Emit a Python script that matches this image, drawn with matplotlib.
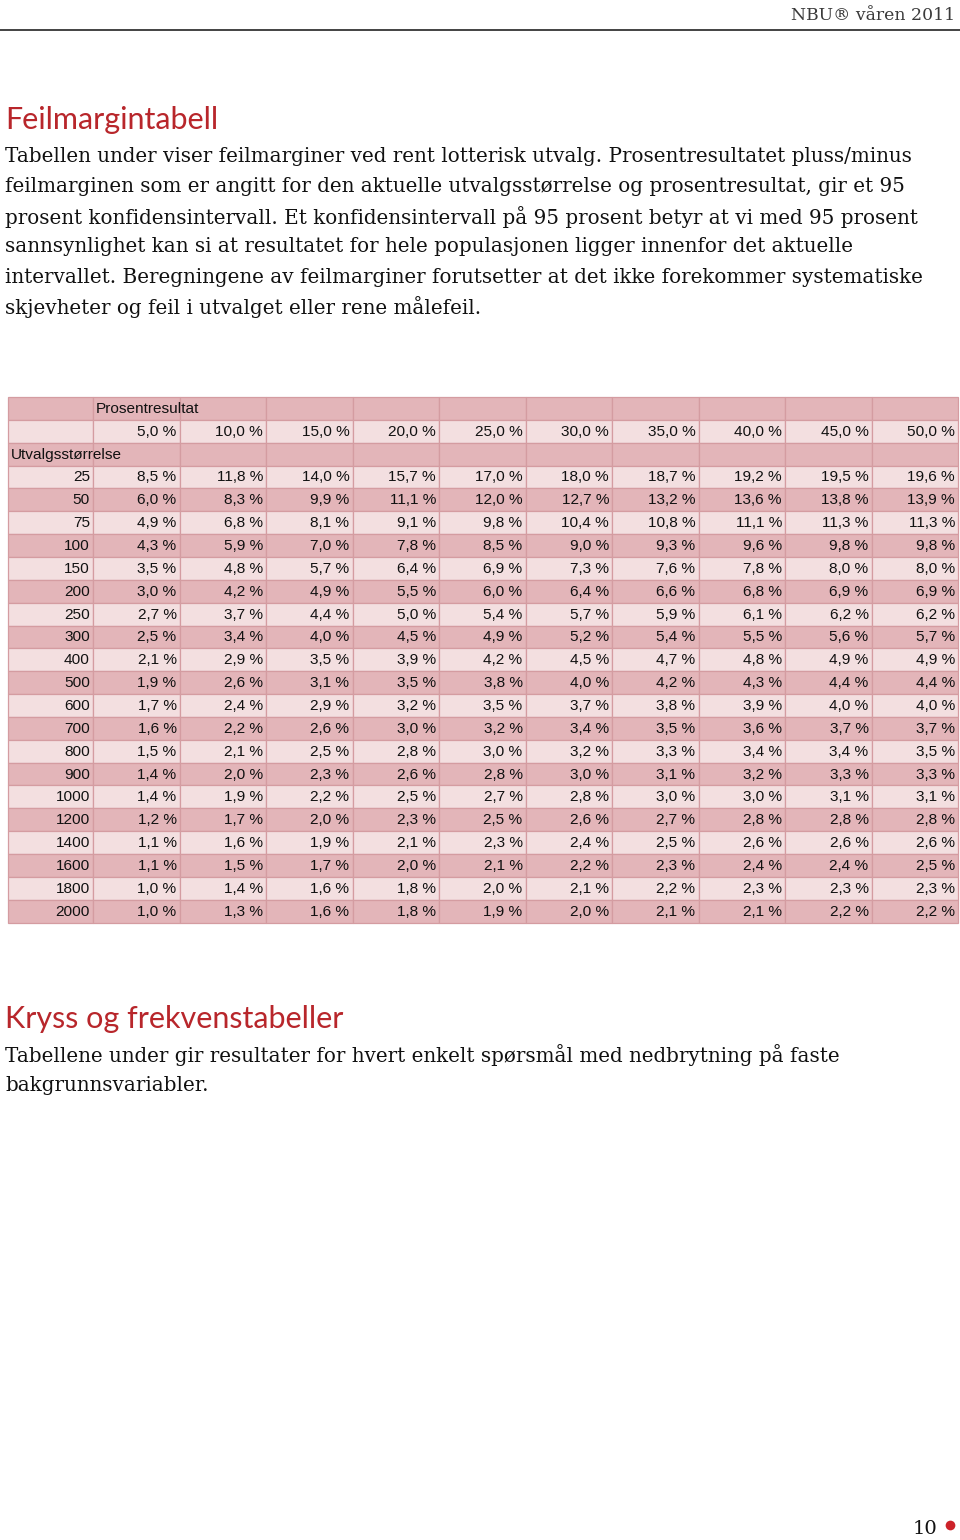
import matplotlib
matplotlib.use("Agg")
import matplotlib.pyplot as plt
from matplotlib.patches import Rectangle

# ---------------- data ----------------
header_text = "NBU® våren 2011"
title1 = "Feilmargintabell"
body1 = [
    "Tabellen under viser feilmarginer ved rent lotterisk utvalg. Prosentresultatet pluss/minus",
    "feilmarginen som er angitt for den aktuelle utvalgsstørrelse og prosentresultat, gir et 95",
    "prosent konfidensintervall. Et konfidensintervall på 95 prosent betyr at vi med 95 prosent",
    "sannsynlighet kan si at resultatet for hele populasjonen ligger innenfor det aktuelle",
    "intervallet. Beregningene av feilmarginer forutsetter at det ikke forekommer systematiske",
    "skjevheter og feil i utvalget eller rene målefeil.",
]
title2 = "Kryss og frekvenstabeller"
body2 = [
    "Tabellene under gir resultater for hvert enkelt spørsmål med nedbrytning på faste",
    "bakgrunnsvariabler.",
]
page_number = "10"

col_label = "Prosentresultat"
row_label = "Utvalgsstørrelse"
percents = [5.0, 10.0, 15.0, 20.0, 25.0, 30.0, 35.0, 40.0, 45.0, 50.0]
sizes = [25, 50, 75, 100, 150, 200, 250, 300, 400, 500,
         600, 700, 800, 900, 1000, 1200, 1400, 1600, 1800, 2000]
m25 = [8.5, 11.8, 14.0, 15.7, 17.0, 18.0, 18.7, 19.2, 19.5, 19.6]
m50 = [6.0, 8.3, 9.9, 11.1, 12.0, 12.7, 13.2, 13.6, 13.8, 13.9]
m75 = [4.9, 6.8, 8.1, 9.1, 9.8, 10.4, 10.8, 11.1, 11.3, 11.3]
m100 = [4.3, 5.9, 7.0, 7.8, 8.5, 9.0, 9.3, 9.6, 9.8, 9.8]
m150 = [3.5, 4.8, 5.7, 6.4, 6.9, 7.3, 7.6, 7.8, 8.0, 8.0]
m200 = [3.0, 4.2, 4.9, 5.5, 6.0, 6.4, 6.6, 6.8, 6.9, 6.9]
m250 = [2.7, 3.7, 4.4, 5.0, 5.4, 5.7, 5.9, 6.1, 6.2, 6.2]
m300 = [2.5, 3.4, 4.0, 4.5, 4.9, 5.2, 5.4, 5.5, 5.6, 5.7]
m400 = [2.1, 2.9, 3.5, 3.9, 4.2, 4.5, 4.7, 4.8, 4.9, 4.9]
m500 = [1.9, 2.6, 3.1, 3.5, 3.8, 4.0, 4.2, 4.3, 4.4, 4.4]
m600 = [1.7, 2.4, 2.9, 3.2, 3.5, 3.7, 3.8, 3.9, 4.0, 4.0]
m700 = [1.6, 2.2, 2.6, 3.0, 3.2, 3.4, 3.5, 3.6, 3.7, 3.7]
m800 = [1.5, 2.1, 2.5, 2.8, 3.0, 3.2, 3.3, 3.4, 3.4, 3.5]
m900 = [1.4, 2.0, 2.3, 2.6, 2.8, 3.0, 3.1, 3.2, 3.3, 3.3]
m1000 = [1.4, 1.9, 2.2, 2.5, 2.7, 2.8, 3.0, 3.0, 3.1, 3.1]
m1200 = [1.2, 1.7, 2.0, 2.3, 2.5, 2.6, 2.7, 2.8, 2.8, 2.8]
m1400 = [1.1, 1.6, 1.9, 2.1, 2.3, 2.4, 2.5, 2.6, 2.6, 2.6]
m1600 = [1.1, 1.5, 1.7, 2.0, 2.1, 2.2, 2.3, 2.4, 2.4, 2.5]
m1800 = [1.0, 1.4, 1.6, 1.8, 2.0, 2.1, 2.2, 2.3, 2.3, 2.3]
m2000 = [1.0, 1.3, 1.6, 1.8, 1.9, 2.0, 2.1, 2.1, 2.2, 2.2]
margins = [m25, m50, m75, m100, m150, m200, m250, m300, m400, m500,
           m600, m700, m800, m900, m1000, m1200, m1400, m1600, m1800, m2000]

# ---------------- styling ----------------
W, H = 960, 1540
RED = "#b8262b"
DARK = "#e3b5b9"
LIGHT = "#f3dfe0"
EDGE = "#d49ca1"
SERIF = ["DejaVu Serif"]
SANS_T = ["Lato", "DejaVu Sans"]
TABLE_FONT = ["Liberation Sans", "DejaVu Sans"]

fig = plt.figure(figsize=(W / 100, H / 100), dpi=100)
ax = fig.add_axes([0, 0, 1, 1])
ax.set_xlim(0, W)
ax.set_ylim(H, 0)
ax.axis("off")

def fmt(v):
    return f"{v:.1f}".replace(".", ",") + " %"

# header
ax.text(955, 15, header_text, ha="right", va="center", fontsize=12.4,
        family=SERIF, color="#3a3a3a")
ax.plot([0, 960], [30, 30], color="#222222", lw=1.2)

# title 1 + body
ax.text(5, 120, title1, ha="left", va="center", fontsize=22,
        family=SANS_T, color=RED)
for i, line in enumerate(body1):
    ax.text(5, 156 + i * 30.3, line, ha="left", va="center", fontsize=14.35,
            family=SERIF, color="#111111")

# ---------------- table ----------------
x0, x1 = 8, 958
first_w = 85
col_w = (x1 - x0 - first_w) / len(percents)
y_top = 397
row_h = 22.85
fs = 11.1

def row_y(r):
    return y_top + r * row_h

def cell_x(c):  # c = 0 for label col, 1..10 for data cols
    return x0 if c == 0 else x0 + first_w + (c - 1) * col_w

def cell_w(c):
    return first_w if c == 0 else col_w

n_rows = 3 + len(sizes)
for r in range(n_rows):
    color = DARK if r % 2 == 0 else LIGHT
    for c in range(len(percents) + 1):
        ax.add_patch(Rectangle((cell_x(c), row_y(r)), cell_w(c), row_h,
                               facecolor=color, edgecolor=EDGE, lw=0.9))

# header row 0: Prosentresultat
ax.text(cell_x(1) + 3, row_y(0) + row_h / 2 + 0.5, col_label, ha="left",
        va="center", fontsize=fs, family=TABLE_FONT, color="#111111")
# header row 1: percents
for j, p in enumerate(percents):
    ax.text(cell_x(j + 1) + cell_w(j + 1) - 3, row_y(1) + row_h / 2 + 0.5,
            fmt(p), ha="right", va="center", fontsize=fs, family=TABLE_FONT,
            color="#111111")
# row 2: Utvalgsstørrelse
ax.text(cell_x(0) + 3, row_y(2) + row_h / 2 + 0.5, row_label, ha="left",
        va="center", fontsize=fs, family=TABLE_FONT, color="#111111")
# data rows
for i, (n, vals) in enumerate(zip(sizes, margins)):
    r = 3 + i
    yc = row_y(r) + row_h / 2 + 0.5
    ax.text(cell_x(0) + cell_w(0) - 3, yc, str(n), ha="right", va="center",
            fontsize=fs, family=TABLE_FONT, color="#111111")
    for j, v in enumerate(vals):
        ax.text(cell_x(j + 1) + cell_w(j + 1) - 3, yc, fmt(v), ha="right",
                va="center", fontsize=fs, family=TABLE_FONT, color="#111111")

# title 2 + body
ax.text(5, 1019, title2, ha="left", va="center", fontsize=22,
        family=SANS_T, color=RED)
for i, line in enumerate(body2):
    ax.text(5, 1055 + i * 30.3, line, ha="left", va="center", fontsize=14.35,
            family=SERIF, color="#111111")

# page number
ax.text(937, 1529, page_number, ha="right", va="center", fontsize=14,
        family=SERIF, color="#111111")
ax.plot([950], [1525], marker="o", ms=7, color="#cc2229", mec="none")

fig.savefig("out.png", dpi=100)
